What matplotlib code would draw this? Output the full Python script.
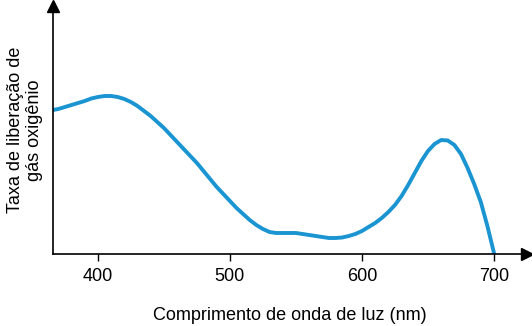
import matplotlib
matplotlib.use('Agg')
import matplotlib.pyplot as plt

plt.rcParams['font.family'] = ['Liberation Sans', 'DejaVu Sans']

# wavelength (nm) and relative oxygen release rate
wavelength = [366, 370, 375, 380, 385, 390, 395, 400, 405, 410, 415, 420, 425,
              430, 435, 440, 445, 450, 455, 460, 465, 470, 475, 480, 485, 490,
              495, 500, 505, 510, 515, 520, 525, 530, 535, 540, 545, 550, 555,
              560, 565, 570, 575, 580, 585, 590, 595, 600, 605, 610, 615, 620,
              625, 630, 635, 640, 645, 650, 655, 660, 665, 670, 675, 680, 685,
              690, 695, 700]
rate = [144, 145, 147, 149, 151, 153, 155.5, 157, 158, 158, 157, 155, 152,
        148, 143, 138, 132, 126, 119, 112, 105, 98, 91, 83, 75, 67,
        60, 53, 46, 40, 34, 29, 25, 22, 21, 21, 21, 21, 20,
        19, 18, 17, 16, 16, 16.5, 18, 20, 23, 27, 31, 36, 42,
        49, 58, 69, 81, 93, 103, 110, 114, 113.5, 109, 100, 86, 70,
        52, 28, 1]
ticks = [400, 500, 600, 700]

fig = plt.figure(figsize=(5.32, 3.26), dpi=100)
ax = fig.add_axes([53 / 532, 72 / 326, 474 / 532, 248 / 326])

ax.plot(wavelength, rate, color='#1a95d2', linewidth=2.8,
        solid_capstyle='round', solid_joinstyle='round')

ax.set_xlim(366, 725)
ax.set_ylim(0, 248)
ax.set_xticks(ticks)
ax.set_yticks([])
ax.tick_params(axis='x', direction='out', length=5, width=1, labelsize=13, pad=5)

ax.spines['top'].set_visible(False)
ax.spines['right'].set_visible(False)
ax.spines['left'].set_linewidth(1.2)
ax.spines['bottom'].set_linewidth(1.2)

# arrowheads on the axes
ax.plot(1, 0, '>', color='black', markersize=8, transform=ax.transAxes, clip_on=False)
ax.plot(0, 1, '^', color='black', markersize=8, transform=ax.transAxes, clip_on=False)

ax.set_xlabel('Comprimento de onda de luz (nm)', fontsize=13, labelpad=16)
fig.text(25 / 532, 196 / 326, 'Taxa de liberação de\ngás oxigênio', fontsize=13,
         rotation=90, ha='center', va='center', multialignment='center',
         linespacing=1.1)

fig.savefig('out.png', dpi=100)
